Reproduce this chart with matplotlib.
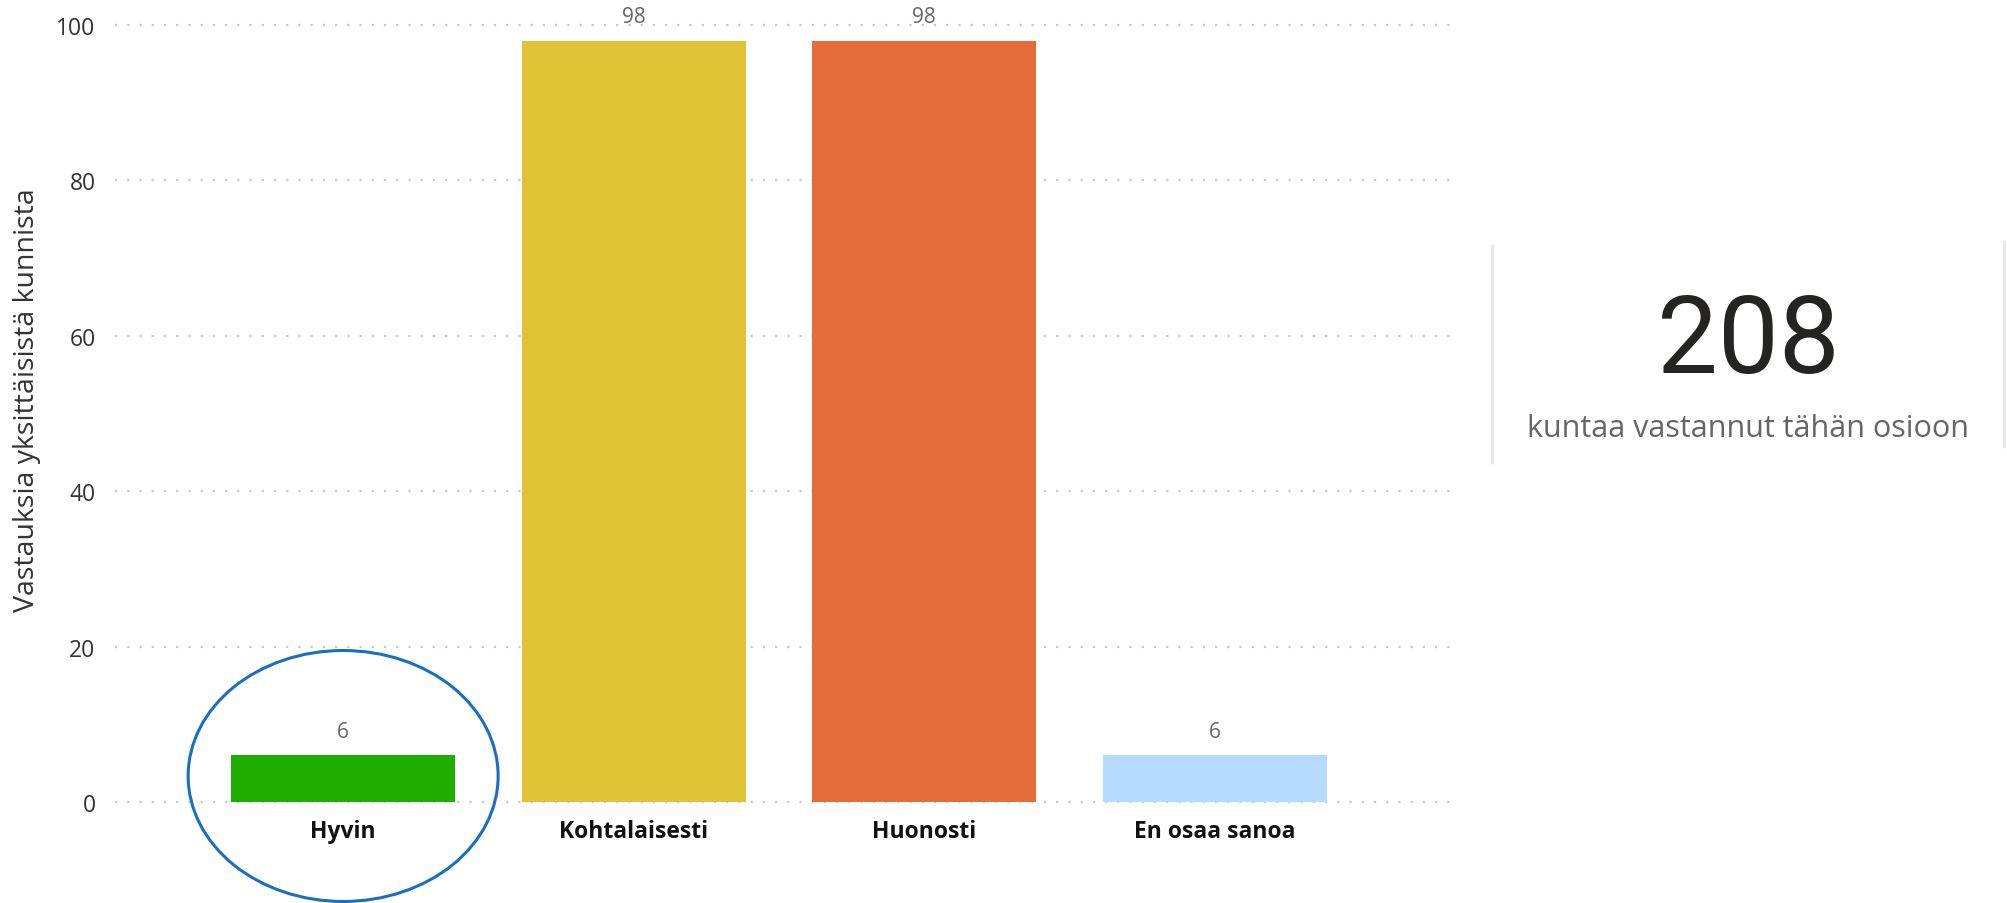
import matplotlib
matplotlib.use('Agg')
import matplotlib.pyplot as plt
from matplotlib.patches import Ellipse
from matplotlib.lines import Line2D

plt.rcParams['font.family'] = ['Open Sans', 'DejaVu Sans']

# data
categories = ['Hyvin', 'Kohtalaisesti', 'Huonosti', 'En osaa sanoa']
values = [6, 98, 98, 6]
colors = ['#1fad00', '#e0c234', '#e46c3a', '#b5dbff']
y_ticks = [0, 20, 40, 60, 80, 100]
total = 208
total_text = 'kuntaa vastannut tähän osioon'
ylabel = 'Vastauksia yksittäisistä kunnista'

fig = plt.figure(figsize=(20.08, 9.04), dpi=100)
ax = fig.add_axes([0.0573, 0.1117, 0.6663, 0.8595])

x = range(len(categories))
ax.bar(x, values, width=0.77, color=colors, zorder=2)

for xi, v in zip(x, values):
    ax.annotate(str(v), (xi, v), xytext=(0, 17), textcoords='offset points',
                ha='center', va='center', fontsize=15, color='#666666')

ax.set_xlim(-0.785, 3.82)
ax.set_ylim(0, 100)
ax.set_yticks(y_ticks)
ax.set_xticks(list(x))
ax.set_xticklabels(categories, fontsize=16.5, fontweight='bold', color='#111111')
ax.tick_params(axis='x', length=0, pad=12)
ax.tick_params(axis='y', length=0, pad=14, labelsize=16.5, labelcolor='#333333')

for t in y_ticks:
    ax.axhline(t, color='#c8c8c8', linestyle=(0, (1, 4.5)), linewidth=1.6,
               zorder=1, clip_on=False)
for s in ax.spines.values():
    s.set_visible(False)

ax.set_ylabel(ylabel, fontsize=20.5, color='#333333')
ax.yaxis.set_label_coords(-0.055, 0.519)

# highlight ring round the first category
ring = Ellipse((0, 3.35), 1.067, 32.3, fill=False, edgecolor='#1a6fbf',
               linewidth=2.2, clip_on=False, zorder=3)
ax.add_patch(ring)

# card on the right
fig.text(0.8705, 0.62, str(total), ha='center', va='center',
         fontsize=78, color='#252423', family=['Roboto', 'DejaVu Sans'])
fig.text(0.8705, 0.525, total_text, ha='center', va='center',
         fontsize=22, color='#666666')
fig.add_artist(Line2D([0.743, 0.743], [0.488, 0.727], color='#e8e8e8',
                      linewidth=2.5, transform=fig.transFigure))
fig.add_artist(Line2D([0.998, 0.998], [0.505, 0.731], color='#e8e8e8',
                      linewidth=2.5, transform=fig.transFigure))

fig.savefig('out.png', dpi=100, facecolor='white')
